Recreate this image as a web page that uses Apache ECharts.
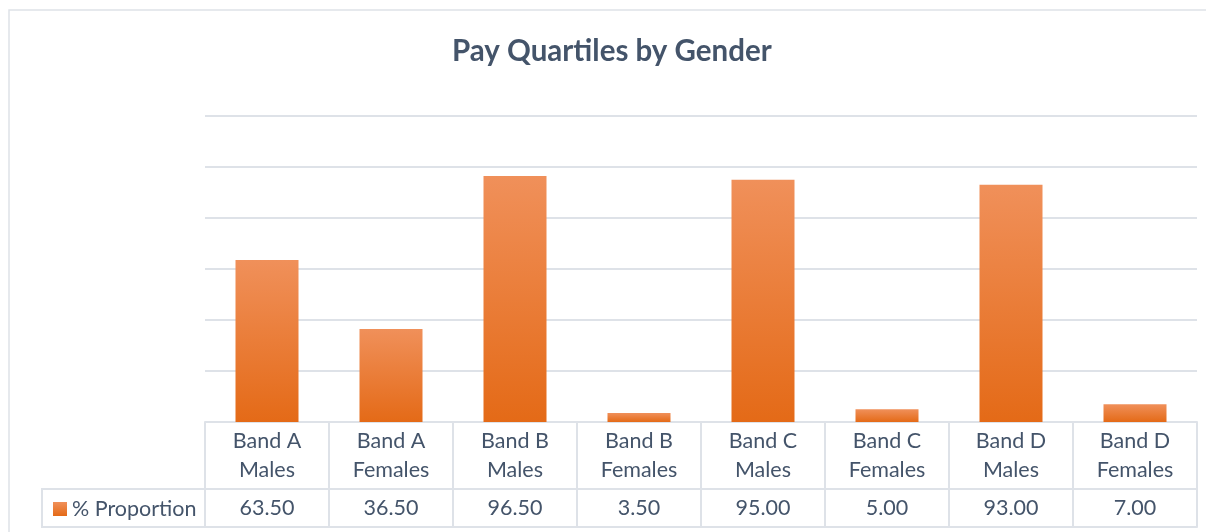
<!DOCTYPE html>
<html>
<head>
<meta charset="utf-8">
<script src="https://cdn.jsdelivr.net/npm/echarts@6/dist/echarts.min.js"></script>
<style>
  html, body { margin: 0; padding: 0; background: #fff; }
  #chart { width: 1206px; height: 532px; }
</style>
</head>
<body>
<div id="chart"></div>
<script>
// data
const categories = ['Band A\nMales', 'Band A\nFemales', 'Band B\nMales', 'Band B\nFemales',
  'Band C\nMales', 'Band C\nFemales', 'Band D\nMales', 'Band D\nFemales']
const proportion = [63.5, 36.5, 96.5, 3.5, 95.0, 5.0, 93.0, 7.0]
const seriesName = '% Proportion'
const chartTitle = 'Pay Quartiles by Gender'

const textColor = '#44546A'
const lineColor = '#DEE2E8'
const font = 'Lato, "Open Sans", sans-serif'

const myChart = echarts.init(document.getElementById('chart'))

const barColor = new echarts.graphic.LinearGradient(0, 0, 0, 1, [
  { offset: 0, color: '#F0905A' },
  { offset: 1, color: '#E46A17' }
])

myChart.setOption({
  animation: false,
  textStyle: { fontFamily: font },
  title: {
    text: chartTitle,
    left: 447,
    top: 31,
    textStyle: { color: textColor, fontSize: 29.5, fontWeight: 'bold', fontFamily: font }
  },
  legend: {
    left: 48,
    top: 493,
    icon: 'rect',
    itemWidth: 14,
    itemHeight: 14,
    itemGap: 6,
    textStyle: { color: textColor, fontSize: 21.5, fontFamily: font }
  },
  grid: { left: 205, right: 9, top: 116, bottom: 110 },
  xAxis: [
    {
      type: 'category',
      data: categories,
      axisLine: { lineStyle: { color: lineColor, width: 2 } },
      axisTick: { show: true, interval: 0, length: 105, lineStyle: { color: lineColor, width: 2 } },
      axisLabel: { interval: 0, margin: 5, color: textColor, fontSize: 21.5, lineHeight: 29 }
    },
    {
      type: 'category',
      position: 'bottom',
      offset: 67,
      data: proportion.map(v => v.toFixed(2)),
      axisLine: { lineStyle: { color: lineColor, width: 2 } },
      axisTick: { show: false },
      axisLabel: { interval: 0, margin: 8, color: textColor, fontSize: 21.5, lineHeight: 22 }
    },
    {
      type: 'category',
      position: 'bottom',
      offset: 105,
      data: categories,
      axisLine: { lineStyle: { color: lineColor, width: 2 } },
      axisTick: { show: false },
      axisLabel: { show: false }
    }
  ],
  yAxis: {
    type: 'value',
    min: 0,
    max: 120,
    interval: 20,
    axisLine: { show: false },
    axisTick: { show: false },
    axisLabel: { show: false },
    splitLine: { lineStyle: { color: lineColor, width: 2 } }
  },
  graphic: [
    {
      type: 'rect',
      shape: { x: 9, y: 10, width: 1240, height: 560 },
      style: { fill: 'none', stroke: lineColor, lineWidth: 1.5 },
      silent: true
    },
    {
      type: 'rect',
      shape: { x: 42, y: 489, width: 163, height: 38 },
      style: { fill: 'none', stroke: lineColor, lineWidth: 2 },
      silent: true
    }
  ],
  series: [
    {
      name: seriesName,
      type: 'bar',
      barWidth: 63,
      data: proportion,
      itemStyle: { color: barColor }
    }
  ]
})

window.onresize = () => {
  myChart.resize()
}
</script>
</body>
</html>
